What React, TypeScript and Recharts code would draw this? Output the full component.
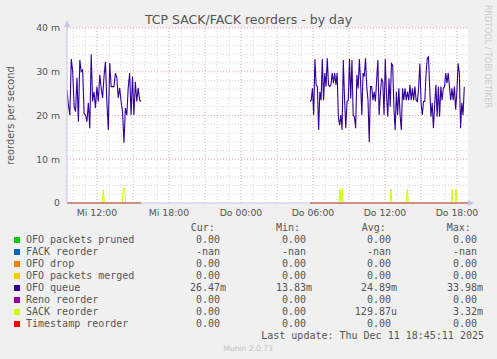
import React from 'react';
import { LineChart, Line, XAxis, YAxis, ReferenceLine, CartesianGrid } from 'recharts';

// time axis is hours since Wed 00:00
const seg1Start = 9.5;
const seg1End = 15.67;
const seg2Start = 29.75;
const seg2End = 42.61;
const zeroEnd = 42.92;

// OFO queue, in milli-reorders per second
const ofoQueue1 = [
  25.8, 22.4, 20.1, 32.9, 30.0, 22.0, 20.9, 28.6, 18.6, 32.7, 30.0, 30.4, 20.5, 20.1, 18.6, 22.9, 17.1, 34.0,
  23.2, 25.4, 21.7, 26.6, 23.2, 29.3, 26.3, 24.0, 28.9, 32.3, 23.2, 16.7, 32.0, 26.6, 26.6, 26.6, 29.7, 28.6,
  24.0, 26.3, 23.2, 20.9, 13.8, 21.7, 20.1, 26.3, 29.7, 20.1, 28.9, 20.1, 27.7, 23.2, 26.3, 23.5, 23.2,
];
const ofoQueue2 = [
  23.2, 23.5, 26.2, 20.1, 32.9, 27.0, 26.6, 16.7, 25.4, 23.5, 32.9, 23.5, 29.7, 26.6, 33.1, 27.0, 26.6, 27.0,
  29.7, 27.4, 29.7, 27.0, 29.7, 19.7, 17.8, 20.1, 16.7, 32.7, 23.9, 17.1, 23.2, 23.5, 32.9, 23.9, 32.7, 20.1,
  19.7, 17.1, 29.3, 26.2, 32.9, 27.7, 20.1,
  29.7, 28.9, 33.1, 26.6, 23.5, 13.9, 26.6, 26.6, 23.5, 25.4, 23.2, 28.1, 32.7, 20.1, 24.7, 28.5, 27.7, 20.1,
  32.9, 24.7, 19.7, 28.5, 22.0, 31.9, 31.5, 21.6, 16.7, 25.4, 20.1, 26.2, 20.1, 16.7, 26.2, 23.5, 26.2, 23.5,
  25.4, 23.5, 27.0, 23.5, 26.2, 23.5,
  26.6, 23.5, 23.2, 26.2, 31.9, 22.9, 20.1, 23.2, 23.2, 29.3, 33.1, 33.4, 26.2, 19.7, 22.9, 17.1, 22.4, 27.0,
  19.7, 26.6, 19.7, 26.6, 23.5, 26.2, 26.6, 29.7, 27.4, 29.7, 26.6, 23.5, 26.2, 23.5, 26.6, 21.3, 25.4, 31.9,
  29.7, 17.1, 22.9, 20.1, 26.5,
];

// SACK reorder: zero with a few short spikes
const sackTimes = [
  9.5, 12.44, 12.53, 12.62, 14.1, 14.2, 14.3, 14.4, 15.67, 15.8,
  29.75, 32.17, 32.25, 32.33, 32.36, 32.44, 32.52, 36.42, 36.5, 36.58, 37.78, 37.86, 37.94,
  41.52, 41.6, 41.68, 41.84, 41.92, 42.0, 42.92,
];
const sackValues = [
  0, 0, 3.0, 0, 0, 3.4, 3.3, 0, 0, null,
  0, 0, 3.2, 0, 0, 3.2, 0, 0, 3.2, 0, 0, 3.2, 0,
  0, 3.2, 0, 0, 3.2, 0, 0,
];

const xTicks = [12, 18, 24, 30, 36, 42];
const xTickLabels = ['Mi 12:00', 'Mi 18:00', 'Do 00:00', 'Do 06:00', 'Do 12:00', 'Do 18:00'];
const yTicks = [0, 10, 20, 30, 40];
const yTickLabels = ['0', '10 m', '20 m', '30 m', '40 m'];

const legendNames = ['OFO packets pruned', 'FACK reorder', 'OFO drop', 'OFO packets merged', 'OFO queue', 'Reno reorder', 'SACK reorder', 'Timestamp reorder'];
const legendColors = ['#00cc00', '#0066b3', '#ff8000', '#ffcc00', '#330099', '#990099', '#ccff00', '#ff0000'];
const curValues = ['0.00', '-nan', '0.00', '0.00', '26.47m', '0.00', '0.00', '0.00'];
const minValues = ['0.00', '-nan', '0.00', '0.00', '13.83m', '0.00', '0.00', '0.00'];
const avgValues = ['0.00', '-nan', '0.00', '0.00', '24.89m', '0.00', '129.87u', '0.00'];
const maxValues = ['0.00', '-nan', '0.00', '0.00', '33.98m', '0.00', '3.32m', '0.00'];

const segment = (start: number, end: number, vals: number[]) =>
  vals.map((v, i) => ({ t: start + (i * (end - start)) / (vals.length - 1), v }));

const queueData = [...segment(seg1Start, seg1End, ofoQueue1), { t: 15.8, v: null }, ...segment(seg2Start, seg2End, ofoQueue2)];
const sackData = sackTimes.map((t, i) => ({ t, v: sackValues[i] }));
const zeroData = [
  { t: seg1Start, v: 0 }, { t: seg1End, v: 0 }, { t: 15.8, v: null },
  { t: seg2Start, v: 0 }, { t: zeroEnd, v: 0 },
];

const hourLines: number[] = [];
for (let h = 10; h <= 42; h++) hourLines.push(h);
const mLines: number[] = [];
for (let m = 2; m <= 40; m += 2) mLines.push(m);

const sans = '"DejaVu Sans", sans-serif';
const mono = '"DejaVu Sans Mono", monospace';
const txt = '#555';
const axisColor = '#c4c4ec';
const cw = 6.02;
const colEnds = [226, 312, 397, 483];
const headStarts = [190.7, 276, 361.7, 446.7];
const headers = ['Cur:', 'Min:', 'Avg:', 'Max:'];
const cols = [curValues, minValues, avgValues, maxValues];

export default function App() {
  return (
    <div style={{ position: 'absolute', left: 0, top: 0, width: 497, height: 359, background: '#f0f0f0', overflow: 'hidden' }}>
      <div style={{ position: 'absolute', left: 0, top: 0 }}>
        <LineChart width={497} height={230} margin={{ top: 28, right: 29, left: 7, bottom: 7 }}>
          <CartesianGrid fill="#ffffff" stroke="none" horizontal={false} vertical={false} />
          {hourLines.map((h) => (
            <ReferenceLine key={'h' + h} x={h} stroke={h % 3 === 0 ? '#eaa8a8' : '#d6d6d6'} strokeDasharray="1 2" />
          ))}
          {mLines.map((m) => (
            <ReferenceLine key={'m' + m} y={m} stroke={m % 10 === 0 ? '#eaa8a8' : '#d6d6d6'} strokeDasharray="1 2" />
          ))}
          <XAxis
            type="number"
            dataKey="t"
            domain={[seg1Start, zeroEnd]}
            ticks={xTicks}
            allowDataOverflow
            height={20}
            tickFormatter={(v: number) => xTickLabels[xTicks.indexOf(v)]}
            tick={{ fontSize: 9.3, fill: txt, fontFamily: sans }}
            tickLine={false}
            tickSize={0}
            tickMargin={6}
            axisLine={{ stroke: axisColor }}
          />
          <YAxis
            type="number"
            domain={[0, 40]}
            ticks={yTicks}
            width={60}
            tickFormatter={(v: number) => yTickLabels[yTicks.indexOf(v)]}
            tick={{ fontSize: 9.3, fill: txt, fontFamily: sans }}
            tickLine={false}
            tickSize={0}
            tickMargin={7}
            axisLine={{ stroke: axisColor }}
          />
          <Line data={zeroData} dataKey="v" stroke="#00cc00" strokeWidth={1} dot={false} isAnimationActive={false} connectNulls={false} />
          <Line data={zeroData} dataKey="v" stroke="#ff8000" strokeWidth={1} dot={false} isAnimationActive={false} connectNulls={false} />
          <Line data={zeroData} dataKey="v" stroke="#ffcc00" strokeWidth={1} dot={false} isAnimationActive={false} connectNulls={false} />
          <Line data={queueData} dataKey="v" stroke="#330099" strokeWidth={1.1} dot={false} isAnimationActive={false} connectNulls={false} />
          <Line data={zeroData} dataKey="v" stroke="#990099" strokeWidth={1} dot={false} isAnimationActive={false} connectNulls={false} />
          <Line data={sackData} dataKey="v" stroke="#ccff00" strokeWidth={1} dot={false} isAnimationActive={false} connectNulls={false} />
          <Line data={zeroData} dataKey="v" stroke="#ff0000" strokeWidth={1} dot={false} isAnimationActive={false} connectNulls={false} />
        </LineChart>
      </div>
      <svg width={497} height={359} style={{ position: 'absolute', left: 0, top: 0, pointerEvents: 'none' }}>
        <text x={248.5} y={24} textAnchor="middle" fontSize={12.5} fill={txt} fontFamily={sans}>
          TCP SACK/FACK reorders - by day
        </text>
        <text x={14} y={115.5} textAnchor="middle" fontSize={9.8} fill={txt} fontFamily={sans} transform="rotate(-90 14 115.5)">
          reorders per second
        </text>
        <text x={485} y={5} fontSize={8} fill="#cccccc" fontFamily={sans} transform="rotate(90 485 5)">
          RRDTOOL / TOBI OETIKER
        </text>
        <line x1={67} y1={22} x2={67} y2={28} stroke={axisColor} />
        <polygon points="64,27 70,27 67,20" fill={axisColor} />
        <polygon points="468,200 468,206 474,203" fill={axisColor} />
        {headers.map((h, i) => (
          <text key={h} x={headStarts[i]} y={231} fontSize={10} fill={txt} fontFamily={mono}>{h}</text>
        ))}
        {legendNames.map((name, r) => {
          const y = 243 + r * 12;
          return (
            <g key={name}>
              <rect x={14} y={y - 6} width={6} height={6} fill={legendColors[r]} />
              <text x={26} y={y} fontSize={10} fill={txt} fontFamily={mono}>{name}</text>
              {cols.map((col, c) => {
                const s = col[r];
                const suffixed = /[a-z]$/.test(s) && s !== '-nan';
                return (
                  <text key={c} x={colEnds[c] - (suffixed ? 0 : cw)} y={y} textAnchor="end" fontSize={10} fill={txt} fontFamily={mono}>
                    {s}
                  </text>
                );
              })}
            </g>
          );
        })}
        <text x={484} y={339} textAnchor="end" fontSize={10} fill={txt} fontFamily={mono}>
          Last update: Thu Dec 11 18:45:11 2025
        </text>
        <text x={248} y={351} textAnchor="middle" fontSize={7.6} fill="#c0c0c0" fontFamily={sans}>
          Munin 2.0.73
        </text>
      </svg>
    </div>
  );
}
